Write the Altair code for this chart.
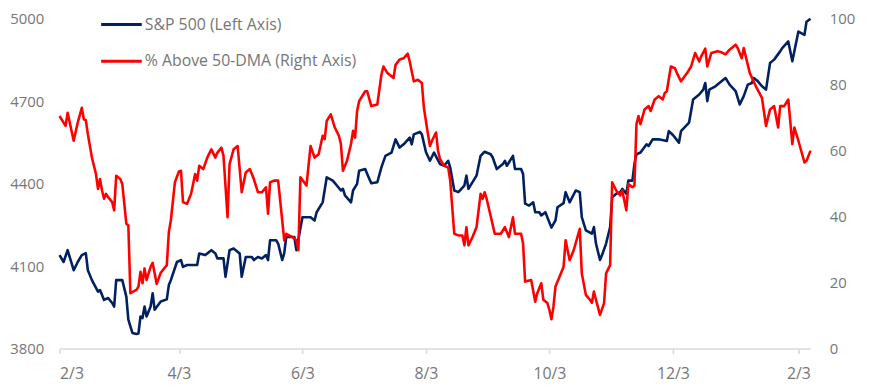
import altair as alt
import pandas as pd

START = "2023-02-03"
END = "2024-02-09"

# S&P 500 (left axis): days since START, index level
sp_day = [0, 2, 4, 7, 9, 11, 13, 14, 16, 19, 20, 22, 24, 26, 27, 28, 31, 33, 34, 36, 38, 39, 40, 41, 42, 43,
          45, 46, 47, 50, 53, 54, 55, 58, 60, 61, 63, 68, 69, 72, 75, 77, 78, 81, 82, 84, 86, 89, 90, 92,
          95, 96, 98, 100, 102, 103, 104, 107, 108, 110, 111, 112, 116, 117, 120, 124, 126, 127, 130, 132,
          135, 137, 139, 140, 141, 144, 145, 147, 148, 151, 152, 154, 157, 159, 161, 164, 166, 168, 170,
          173, 174, 175, 178, 179, 181, 183, 185, 188, 190, 192, 193, 195, 197, 200, 201, 202, 205, 206,
          208, 210, 213, 214, 216, 219, 220, 221, 224, 225, 228, 229, 230, 232, 234, 235, 237, 238, 240,
          243, 245, 246, 249, 250, 252, 255, 257, 258, 260, 263, 264, 265, 267, 268, 270, 272, 273, 275,
          277, 278, 280, 281, 283, 284, 285, 287, 290, 291, 293, 296, 300, 301, 303, 306, 307, 311, 313,
          316, 318, 319, 320, 321, 324, 329, 331, 334, 336, 338, 340, 342, 343, 345, 347, 349, 351, 353,
          356, 357, 360, 362, 365, 368, 369, 371]
sp_value = [4140, 4115, 4158, 4085, 4115, 4140, 4147, 4085, 4049, 4007, 4013, 3977, 3984, 3966, 3953, 4049,
            4049, 3989, 3905, 3857, 3853, 3855, 3917, 3911, 3953, 3917, 3953, 4001, 3941, 3971, 3979, 4031,
            4049, 4115, 4122, 4097, 4104, 4104, 4146, 4140, 4158, 4146, 4128, 4128, 4061, 4158, 4164, 4146,
            4061, 4133, 4133, 4122, 4133, 4128, 4140, 4122, 4194, 4194, 4182, 4122, 4146, 4206, 4206, 4158,
            4278, 4278, 4266, 4296, 4332, 4423, 4411, 4393, 4375, 4381, 4357, 4332, 4375, 4399, 4447, 4453,
            4435, 4401, 4405, 4459, 4501, 4513, 4561, 4531, 4543, 4567, 4543, 4579, 4588, 4579, 4515, 4483,
            4513, 4471, 4465, 4483, 4459, 4375, 4369, 4393, 4429, 4381, 4417, 4429, 4501, 4516, 4507, 4495,
            4453, 4471, 4483, 4465, 4501, 4453, 4453, 4435, 4327, 4320, 4332, 4296, 4296, 4284, 4296, 4240,
            4266, 4314, 4329, 4369, 4332, 4375, 4369, 4278, 4230, 4218, 4242, 4182, 4122, 4140, 4182, 4242,
            4350, 4363, 4369, 4381, 4363, 4411, 4411, 4471, 4507, 4513, 4543, 4537, 4561, 4561, 4555, 4591,
            4577, 4549, 4591, 4622, 4706, 4724, 4742, 4766, 4700, 4742, 4754, 4784, 4760, 4736, 4688, 4718,
            4760, 4766, 4784, 4772, 4754, 4742, 4839, 4851, 4881, 4893, 4917, 4845, 4953, 4941, 4989, 5000]

# % of stocks above 50-DMA (right axis)
pct_day = [0, 2, 3, 4, 7, 9, 11, 12, 13, 14, 16, 18, 19, 20, 21, 22, 23, 24, 26, 27, 28, 30, 31, 33, 34, 35,
           38, 39, 40, 41, 42, 43, 45, 46, 48, 50, 53, 54, 55, 57, 59, 60, 61, 63, 65, 67, 68, 69, 71, 73,
           75, 77, 78, 80, 81, 83, 84, 86, 88, 90, 92, 94, 96, 98, 100, 102, 103, 104, 106, 108, 110, 111,
           112, 115, 117, 118, 119, 122, 124, 126, 128, 130, 131, 132, 134, 136, 138, 139, 140, 142, 144,
           145, 146, 147, 148, 151, 152, 154, 157, 159, 160, 162, 165, 166, 168, 170, 172, 173, 175, 177,
           179, 180, 182, 183, 184, 186, 187, 188, 190, 192, 193, 195, 197, 199, 200, 201, 202, 204, 206,
           208, 209, 210, 211, 215, 218, 220, 222, 224, 225, 228, 229, 230, 233, 235, 236, 238, 239, 241,
           242, 243, 244, 245, 247, 249, 250, 252, 254, 257, 258, 260, 262, 263, 264, 265, 267, 269, 270,
           272, 273, 275, 277, 278, 280, 281, 283, 284, 285, 286, 287, 289, 291, 292, 294, 296, 298, 299,
           300, 302, 304, 305, 307, 310, 312, 314, 316, 317, 319, 320, 322, 325, 327, 329, 331, 334, 335,
           337, 338, 341, 344, 347, 349, 351, 353, 355, 356, 358, 360, 362, 363, 365, 368, 369, 371]
pct_value = [70.5, 68.5, 67.5, 71.5, 63.0, 68.5, 73.0, 69.5, 69.2, 65.0, 57.9, 52.9, 48.4, 51.4, 47.9, 45.4,
             46.9, 45.9, 44.4, 41.9, 52.4, 51.4, 49.9, 37.9, 37.3, 16.8, 17.8, 18.8, 23.3, 19.8, 24.3, 20.8,
             24.8, 26.0, 19.6, 23.0, 25.3, 35.3, 38.9, 50.4, 53.7, 53.9, 44.4, 43.9, 46.9, 52.9, 50.9, 55.4,
             54.4, 57.9, 60.4, 57.9, 59.4, 60.9, 58.4, 39.8, 55.9, 60.4, 61.4, 47.4, 53.4, 54.4, 51.4, 47.4,
             47.4, 48.9, 40.9, 50.4, 50.9, 50.9, 38.9, 32.8, 34.8, 33.8, 32.8, 29.8, 51.9, 49.4, 61.4, 57.9,
             58.9, 64.5, 63.5, 69.0, 71.0, 67.0, 64.5, 62.0, 53.9, 56.9, 62.0, 66.0, 63.9, 72.0, 75.0, 78.0,
             78.0, 73.5, 74.0, 83.0, 85.5, 83.5, 82.0, 86.0, 87.6, 88.0, 89.4, 87.0, 81.0, 81.5, 80.5, 73.0,
             65.0, 61.4, 63.0, 65.5, 59.9, 57.4, 55.4, 54.9, 50.9, 34.8, 34.3, 34.3, 31.3, 36.8, 31.3, 33.8,
             36.8, 46.9, 45.4, 47.4, 45.4, 34.8, 34.8, 36.8, 33.8, 39.8, 34.8, 34.8, 31.8, 20.3, 20.8, 14.2,
             16.8, 19.8, 14.8, 13.8, 11.7, 8.9, 12.7, 18.8, 21.8, 24.8, 32.8, 26.8, 29.8, 36.3, 22.8, 16.3,
             14.8, 13.9, 17.3, 14.8, 10.2, 13.8, 22.8, 25.3, 50.4, 47.9, 46.4, 47.9, 41.9, 49.9, 48.9, 49.4,
             68.0, 70.5, 68.0, 72.5, 73.5, 72.0, 75.5, 76.5, 75.5, 77.5, 78.0, 85.5, 85.0, 83.5, 81.0, 83.5,
             85.5, 89.6, 87.0, 88.6, 90.9, 85.5, 89.6, 90.1, 89.8, 89.2, 90.6, 92.1, 91.1, 88.0, 91.1, 83.5,
             79.5, 76.0, 67.5, 72.5, 73.5, 67.0, 73.5, 73.5, 75.5, 62.0, 67.0, 63.0, 56.4, 56.9, 60.0]

x_tick_dates = ["2023-02-03", "2023-04-03", "2023-06-03", "2023-08-03", "2023-10-03", "2023-12-03", "2024-02-03"]
left_ticks = [3800, 4100, 4400, 4700, 5000]
right_ticks = [0, 20, 40, 60, 80, 100]
legend_labels = ["S&P 500 (Left Axis)", "% Above 50-DMA (Right Axis)"]
series_colors = ["#002060", "#ff0000"]

FONT = "Open Sans"
LABEL_COLOR = "#767676"
AXIS_LINE = "#d9d9d9"

start = pd.Timestamp(START)


def to_dates(days):
    return [(start + pd.Timedelta(days=int(d))).strftime("%Y-%m-%d") for d in days]


def dt(s):
    y, m, d = (int(p) for p in s.split("-"))
    return alt.DateTime(year=y, month=m, date=d, utc=True)


sp_df = pd.DataFrame({"date": to_dates(sp_day), "value": sp_value, "i": range(len(sp_day))})
pct_df = pd.DataFrame({"date": to_dates(pct_day), "value": pct_value, "i": range(len(pct_day))})

x_enc = alt.X(
    "date:T",
    title=None,
    scale=alt.Scale(type="utc", domain=[dt(START), dt(END)]),
    axis=alt.Axis(
        values=[dt(s) for s in x_tick_dates],
        format="%-m/%-d",
        labelFont=FONT,
        labelFontSize=16,
        labelColor=LABEL_COLOR,
        domainColor=AXIS_LINE,
        domainWidth=1.5,
        tickColor=AXIS_LINE,
        tickWidth=1.5,
        tickSize=5,
        labelPadding=12,
        grid=False,
    ),
)

sp_line = alt.Chart(sp_df).mark_line(color=series_colors[0], strokeWidth=2.6, strokeJoin="round").encode(
    x=x_enc,
    y=alt.Y(
        "value:Q",
        title=None,
        scale=alt.Scale(domain=[left_ticks[0], left_ticks[-1]], nice=False, zero=False),
        axis=alt.Axis(
            orient="left",
            values=left_ticks,
            format="d",
            labelFont=FONT,
            labelFontSize=15,
            labelColor=LABEL_COLOR,
            ticks=False,
            domain=False,
            grid=False,
            labelPadding=16,
        ),
    ),
    order="i:Q",
)

pct_line = alt.Chart(pct_df).mark_line(color=series_colors[1], strokeWidth=2.6, strokeJoin="round").encode(
    x=x_enc,
    y=alt.Y(
        "value:Q",
        title=None,
        scale=alt.Scale(domain=[right_ticks[0], right_ticks[-1]], nice=False),
        axis=alt.Axis(
            orient="right",
            values=right_ticks,
            format="d",
            labelFont=FONT,
            labelFontSize=15,
            labelColor=LABEL_COLOR,
            ticks=False,
            domain=False,
            grid=False,
            labelPadding=19,
        ),
    ),
    order="i:Q",
)

legend_src = alt.Data(values=[{"k": 0}])
legend_layers = []
for idx, (lab, col) in enumerate(zip(legend_labels, series_colors)):
    ypix = 6 + idx * 37
    legend_layers.append(
        alt.Chart(legend_src).mark_rule(color=col, strokeWidth=3).encode(
            x=alt.value(42), x2=alt.value(83), y=alt.value(ypix)
        )
    )
    legend_layers.append(
        alt.Chart(legend_src).mark_text(
            align="left", baseline="middle", font=FONT, fontSize=16, color=LABEL_COLOR
        ).encode(x=alt.value(86), y=alt.value(ypix), text=alt.value(lab))
    )

chart = (
    alt.layer(sp_line, pct_line, *legend_layers)
    .resolve_scale(y="independent")
    .properties(
        width=758,
        height=333,
        autosize=alt.AutoSizeParams(type="none"),
        padding={"left": 52, "top": 9, "right": 59, "bottom": 36},
        background="white",
    )
    .configure_view(stroke=None)
)

chart.save("out.html", embed_options={"renderer": "svg", "actions": False})
